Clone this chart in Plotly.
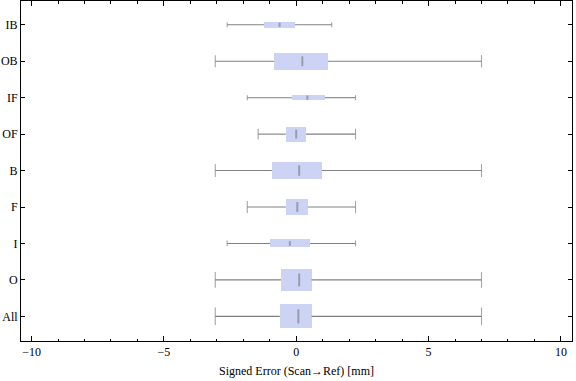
import plotly.graph_objects as go

# Data (bottom to top)
categories = ["All", "O", "I", "F", "B", "OF", "IF", "OB", "IB"]
whisker_min = [-3.06, -3.06, -2.61, -1.85, -3.06, -1.44, -1.85, -3.06, -2.61]
q1 = [-0.62, -0.58, -0.99, -0.39, -0.92, -0.39, -0.16, -0.84, -1.22]
median = [0.08, 0.11, -0.24, 0.04, 0.11, 0.00, 0.42, 0.23, -0.63]
q3 = [0.58, 0.58, 0.52, 0.44, 0.97, 0.37, 1.08, 1.20, -0.05]
whisker_max = [7.0, 7.0, 2.24, 2.24, 7.0, 2.24, 2.24, 7.0, 1.34]
box_widths = [0.66, 0.60, 0.22, 0.46, 0.49, 0.41, 0.14, 0.46, 0.16]
x_ticks = [-10, -5, 0, 5, 10]
x_tick_labels = ["\u221210", "\u22125", "0", "5", "10"]

pos = list(range(len(categories)))
px_per_cat = 36.5

BOX_COLOR = "#CCD3F5"
WHISK_COLOR = "#808080"

fig = go.Figure()

# Boxes (interquartile range)
fig.add_trace(go.Bar(
    y=pos, x=[b - a for a, b in zip(q1, q3)], base=q1, width=box_widths,
    orientation="h", marker=dict(color=BOX_COLOR, line=dict(width=0)),
    hoverinfo="skip", showlegend=False,
))

# Whisker lines
wx, wy = [], []
for p, lo, a, b, hi in zip(pos, whisker_min, q1, q3, whisker_max):
    wx += [lo, a, None, b, hi, None]
    wy += [p, p, None, p, p, None]
fig.add_trace(go.Scatter(
    x=wx, y=wy, mode="lines", line=dict(color=WHISK_COLOR, width=1.1),
    hoverinfo="skip", showlegend=False,
))

# Whisker caps
cap_sizes = [max(3.5, w * px_per_cat * 0.52) for w in box_widths]
fig.add_trace(go.Scatter(
    x=whisker_min + whisker_max, y=pos + pos, mode="markers",
    marker=dict(symbol="line-ns", size=cap_sizes + cap_sizes,
                line=dict(color=WHISK_COLOR, width=1.1)),
    hoverinfo="skip", showlegend=False,
))

# Medians
med_sizes = [max(3, w * px_per_cat * 0.42) for w in box_widths]
fig.add_trace(go.Scatter(
    x=median, y=pos, mode="markers",
    marker=dict(symbol="line-ns", size=med_sizes,
                line=dict(color="rgba(110,110,110,0.75)", width=2)),
    hoverinfo="skip", showlegend=False,
))

fig.update_layout(
    width=576, height=381,
    margin=dict(l=21, r=4, t=1, b=40),
    paper_bgcolor="white", plot_bgcolor="white",
    font=dict(family="Liberation Serif, DejaVu Serif, serif", size=12, color="black"),
    bargap=0,
    xaxis=dict(
        range=[-10.4, 10.42], tickvals=x_ticks, ticktext=x_tick_labels,
        ticks="inside", ticklen=5, tickwidth=1, tickcolor="black",
        minor=dict(dtick=1, ticks="inside", ticklen=2.5, tickcolor="black", tickwidth=1),
        showline=True, linecolor="black", linewidth=1, mirror="allticks",
        showgrid=False, zeroline=False, automargin=False,
        title=dict(text="Signed Error (Scan\u2192Ref) [mm]", standoff=8,
                   font=dict(size=12)),
    ),
    yaxis=dict(
        range=[-0.677, 8.653], tickvals=pos, ticktext=categories,
        ticks="inside", ticklen=4, tickwidth=1, tickcolor="black",
        showline=True, linecolor="black", linewidth=1, mirror="allticks",
        showgrid=False, zeroline=False, automargin=False,
    ),
)

fig.write_html("out.html", config={"displayModeBar": False},
               post_script="document.body.style.margin='0';document.body.style.overflow='hidden';")
